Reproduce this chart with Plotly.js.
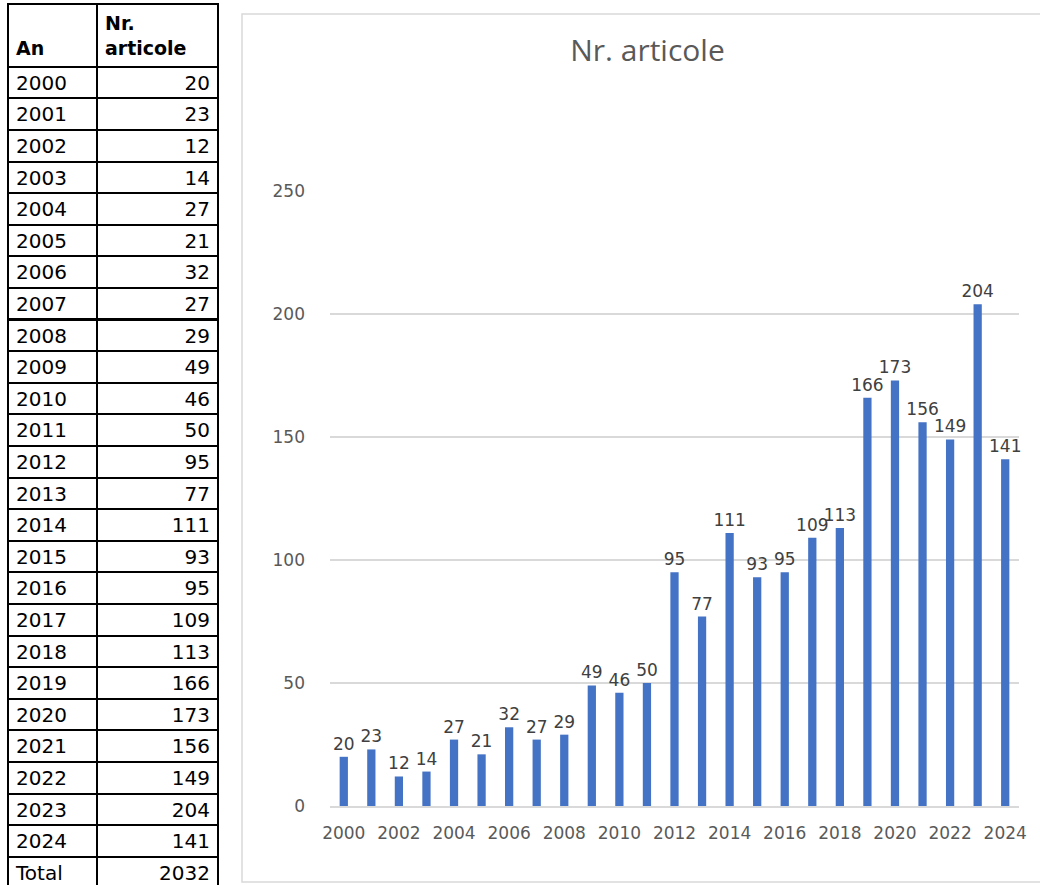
<!DOCTYPE html>
<html>
<head>
<meta charset="utf-8">
<script src="https://cdn.plot.ly/plotly-3.0.1.min.js"></script>
<style>html,body{margin:0;padding:0;background:#fff;}#chart{width:1040px;height:885px;}</style>
</head>
<body>
<div id="chart"></div>
<script>
const years = [2000,2001,2002,2003,2004,2005,2006,2007,2008,2009,2010,2011,2012,2013,2014,2015,2016,2017,2018,2019,2020,2021,2022,2023,2024];
const articles = [20,23,12,14,27,21,32,27,29,49,46,50,95,77,111,93,95,109,113,166,173,156,149,204,141];
const totalLabel = "Total";
const totalValue = 2032;
const headerLabels = ["\u00a0<br>An", "Nr.<br>articole"];
const chartTitle = "Nr. articole";
const yTicks = [0,50,100,150,200,250];
const xTicks = [2000,2002,2004,2006,2008,2010,2012,2014,2016,2018,2020,2022,2024];

const W = 1040, H = 885;
const px = v => v / W;
const py = v => 1 - v / H;

const col1 = years.map(String).concat([totalLabel]);
const col2 = articles.map(String).concat([String(totalValue)]);

const table = {
  type: 'table',
  domain: {x: [px(8), px(218)], y: [0, py(4)]},
  columnwidth: [89, 121],
  header: {
    values: headerLabels,
    align: ['left', 'left'],
    height: 26,
    fill: {color: '#ffffff'},
    line: {color: '#000000', width: 2},
    font: {family: 'DejaVu Sans', size: 19, color: '#000000', weight: 'bold'}
  },
  cells: {
    values: [col1, col2],
    align: ['left', 'right'],
    height: 31.6,
    fill: {color: '#ffffff'},
    line: {color: '#000000', width: 2},
    font: {family: 'DejaVu Sans', size: 20, color: '#000000'}
  }
};

const bars = {
  type: 'bar',
  x: years,
  y: articles,
  marker: {color: '#4472C4'},
  text: articles.map(String),
  textposition: 'outside',
  constraintext: 'none',
  textfont: {family: 'DejaVu Sans', size: 17, color: '#404040'},
  cliponaxis: false,
  hoverinfo: 'skip'
};

const layout = {
  width: W, height: H,
  margin: {l: 0, r: 0, t: 0, b: 0},
  paper_bgcolor: '#ffffff',
  plot_bgcolor: '#ffffff',
  showlegend: false,
  bargap: 0.7,
  title: {
    text: chartTitle,
    x: px(647.5), xanchor: 'center', xref: 'paper',
    y: py(50), yanchor: 'middle', yref: 'paper',
    font: {family: 'Open Sans', size: 30, color: '#595959'}
  },
  xaxis: {
    domain: [px(330), px(1019)],
    range: [1999.5, 2024.5],
    tickvals: xTicks,
    ticktext: xTicks.map(String),
    showgrid: false,
    zeroline: false,
    showline: true,
    linecolor: '#d9d9d9',
    linewidth: 1.5,
    ticks: '',
    ticklabelstandoff: 11,
    tickfont: {family: 'DejaVu Sans', size: 17, color: '#595959'},
    fixedrange: true
  },
  yaxis: {
    domain: [1 - 806 / H, 1 - 191 / H],
    range: [0, 250],
    tickvals: yTicks,
    showgrid: true,
    gridcolor: '#d9d9d9',
    gridwidth: 1.5,
    zeroline: false,
    showline: false,
    ticks: '',
    ticklabelstandoff: 24,
    tickfont: {family: 'DejaVu Sans', size: 17, color: '#595959'},
    fixedrange: true
  },
  shapes: [{
    type: 'rect', xref: 'paper', yref: 'paper',
    x0: px(242), x1: px(1045), y0: py(882), y1: py(14),
    line: {color: '#d9d9d9', width: 1.5},
    fillcolor: 'rgba(0,0,0,0)',
    layer: 'below'
  }]
};

Plotly.newPlot('chart', [table, bars], layout, {displayModeBar: false, staticPlot: true});
</script>
</body>
</html>
